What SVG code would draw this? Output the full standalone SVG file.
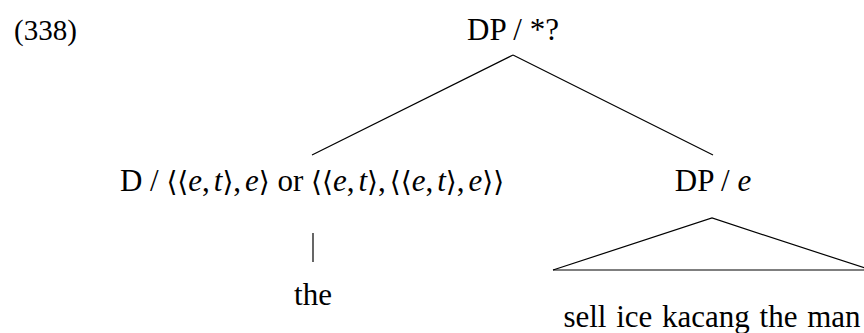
<svg xmlns="http://www.w3.org/2000/svg" width="864" height="333" viewBox="0 0 864 333">
<style>
text{font-family:"Liberation Serif","DejaVu Serif",serif;font-size:31px;fill:#000}
.m{text-anchor:middle}
.i{font-style:italic}
.b{font-family:"DejaVu Serif","Liberation Serif",serif;font-size:28px}
line,polyline{stroke:#000;stroke-width:1.2;fill:none}
</style>
<rect width="864" height="333" fill="#fff"/>
<text x="14" y="40" style="font-size:29px">(338)</text>
<g id="edges">
<line x1="513" y1="55" x2="312" y2="155"/>
<line x1="513" y1="55" x2="713" y2="155"/>
<line x1="313" y1="233" x2="313" y2="262"/>
<polyline points="553,270 712,218 871,270"/>
<line x1="553" y1="270" x2="871" y2="270"/>
</g>
<g id="root"><text class="m" x="513" y="40">DP / *?</text></g>
<g id="d"><text class="m" x="312" y="191">D / <tspan class="b">⟨⟨</tspan><tspan class="i">e</tspan>,<tspan class="i" dx="4">t</tspan><tspan class="b">⟩</tspan>,<tspan class="i" dx="4">e</tspan><tspan class="b">⟩</tspan> or <tspan class="b">⟨⟨</tspan><tspan class="i">e</tspan>,<tspan class="i" dx="4">t</tspan><tspan class="b">⟩</tspan>,<tspan class="b" dx="4">⟨⟨</tspan><tspan class="i">e</tspan>,<tspan class="i" dx="4">t</tspan><tspan class="b">⟩</tspan>,<tspan class="i" dx="4">e</tspan><tspan class="b">⟩⟩</tspan></text></g>
<g id="dpe"><text class="m" x="713" y="191">DP / <tspan class="i">e</tspan></text></g>
<g id="the"><text class="m" x="313" y="305">the</text></g>
<g id="phrase"><text class="m" x="712" y="327" style="word-spacing:2px">sell ice kacang the man</text></g>
</svg>
